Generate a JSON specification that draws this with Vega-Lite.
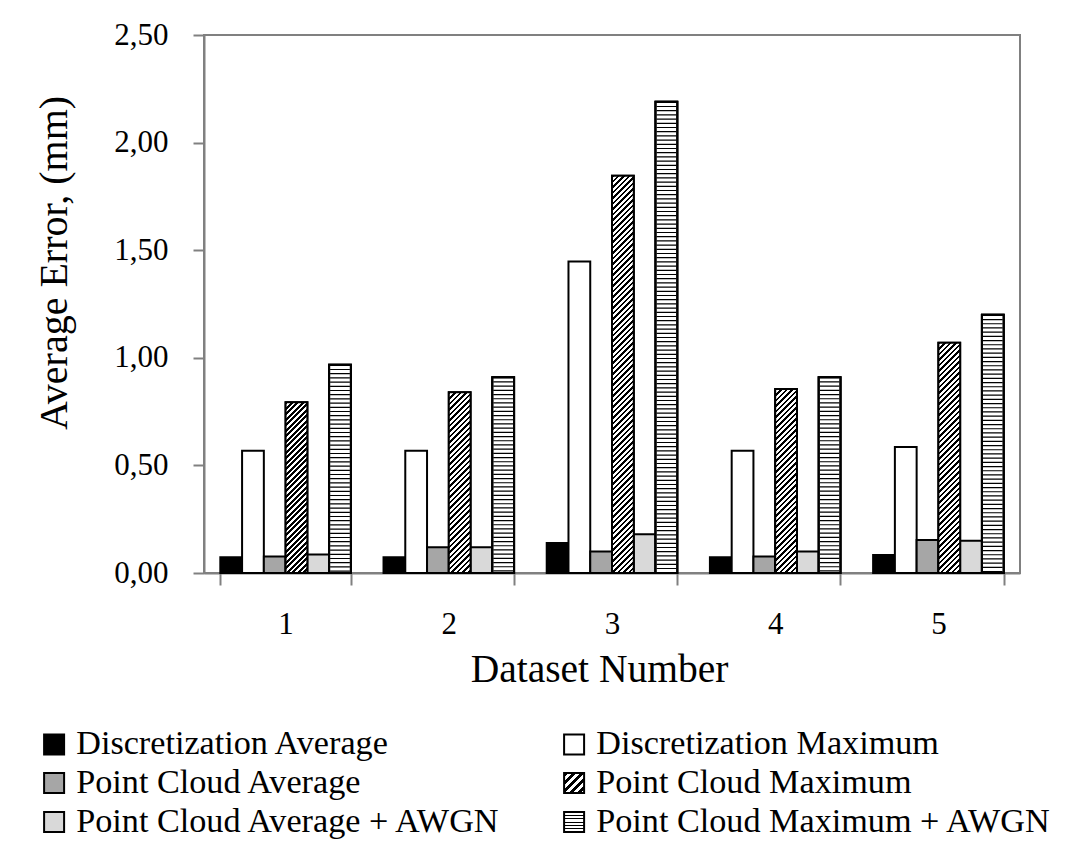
{
  "$schema": "https://vega.github.io/schema/vega-lite/v6.json",
  "width": 816,
  "height": 538,
  "autosize": {"type": "none"},
  "padding": {"left": 204, "top": 35, "right": 65, "bottom": 282},
  "background": "white",
  "config": {
    "font": "Liberation Serif",
    "view": {"stroke": "#808080", "strokeWidth": 2},
    "legend": {"symbolStrokeColor": "#000", "symbolStrokeWidth": 2}
  },
  "params": [
    {"name": "hatch", "value": [
{"offset":0,"color":"#000"},{"offset":0.005,"color":"#000"},{"offset":0.005,"color":"#fff"},{"offset":0.01,"color":"#fff"},
{"offset":0.01,"color":"#000"},{"offset":0.015,"color":"#000"},{"offset":0.015,"color":"#fff"},{"offset":0.02,"color":"#fff"},
{"offset":0.02,"color":"#000"},{"offset":0.025,"color":"#000"},{"offset":0.025,"color":"#fff"},{"offset":0.03,"color":"#fff"},
{"offset":0.03,"color":"#000"},{"offset":0.035,"color":"#000"},{"offset":0.035,"color":"#fff"},{"offset":0.04,"color":"#fff"},
{"offset":0.04,"color":"#000"},{"offset":0.045,"color":"#000"},{"offset":0.045,"color":"#fff"},{"offset":0.05,"color":"#fff"},
{"offset":0.05,"color":"#000"},{"offset":0.055,"color":"#000"},{"offset":0.055,"color":"#fff"},{"offset":0.06,"color":"#fff"},
{"offset":0.06,"color":"#000"},{"offset":0.065,"color":"#000"},{"offset":0.065,"color":"#fff"},{"offset":0.07,"color":"#fff"},
{"offset":0.07,"color":"#000"},{"offset":0.075,"color":"#000"},{"offset":0.075,"color":"#fff"},{"offset":0.08,"color":"#fff"},
{"offset":0.08,"color":"#000"},{"offset":0.085,"color":"#000"},{"offset":0.085,"color":"#fff"},{"offset":0.09,"color":"#fff"},
{"offset":0.09,"color":"#000"},{"offset":0.095,"color":"#000"},{"offset":0.095,"color":"#fff"},{"offset":0.10,"color":"#fff"},
{"offset":0.10,"color":"#000"},{"offset":0.105,"color":"#000"},{"offset":0.105,"color":"#fff"},{"offset":0.11,"color":"#fff"},
{"offset":0.11,"color":"#000"},{"offset":0.115,"color":"#000"},{"offset":0.115,"color":"#fff"},{"offset":0.12,"color":"#fff"},
{"offset":0.12,"color":"#000"},{"offset":0.125,"color":"#000"},{"offset":0.125,"color":"#fff"},{"offset":0.13,"color":"#fff"},
{"offset":0.13,"color":"#000"},{"offset":0.135,"color":"#000"},{"offset":0.135,"color":"#fff"},{"offset":0.14,"color":"#fff"},
{"offset":0.14,"color":"#000"},{"offset":0.145,"color":"#000"},{"offset":0.145,"color":"#fff"},{"offset":0.15,"color":"#fff"},
{"offset":0.15,"color":"#000"},{"offset":0.155,"color":"#000"},{"offset":0.155,"color":"#fff"},{"offset":0.16,"color":"#fff"},
{"offset":0.16,"color":"#000"},{"offset":0.165,"color":"#000"},{"offset":0.165,"color":"#fff"},{"offset":0.17,"color":"#fff"},
{"offset":0.17,"color":"#000"},{"offset":0.175,"color":"#000"},{"offset":0.175,"color":"#fff"},{"offset":0.18,"color":"#fff"},
{"offset":0.18,"color":"#000"},{"offset":0.185,"color":"#000"},{"offset":0.185,"color":"#fff"},{"offset":0.19,"color":"#fff"},
{"offset":0.19,"color":"#000"},{"offset":0.195,"color":"#000"},{"offset":0.195,"color":"#fff"},{"offset":0.20,"color":"#fff"},
{"offset":0.20,"color":"#000"},{"offset":0.205,"color":"#000"},{"offset":0.205,"color":"#fff"},{"offset":0.21,"color":"#fff"},
{"offset":0.21,"color":"#000"},{"offset":0.215,"color":"#000"},{"offset":0.215,"color":"#fff"},{"offset":0.22,"color":"#fff"},
{"offset":0.22,"color":"#000"},{"offset":0.225,"color":"#000"},{"offset":0.225,"color":"#fff"},{"offset":0.23,"color":"#fff"},
{"offset":0.23,"color":"#000"},{"offset":0.235,"color":"#000"},{"offset":0.235,"color":"#fff"},{"offset":0.24,"color":"#fff"},
{"offset":0.24,"color":"#000"},{"offset":0.245,"color":"#000"},{"offset":0.245,"color":"#fff"},{"offset":0.25,"color":"#fff"},
{"offset":0.25,"color":"#000"},{"offset":0.255,"color":"#000"},{"offset":0.255,"color":"#fff"},{"offset":0.26,"color":"#fff"},
{"offset":0.26,"color":"#000"},{"offset":0.265,"color":"#000"},{"offset":0.265,"color":"#fff"},{"offset":0.27,"color":"#fff"},
{"offset":0.27,"color":"#000"},{"offset":0.275,"color":"#000"},{"offset":0.275,"color":"#fff"},{"offset":0.28,"color":"#fff"},
{"offset":0.28,"color":"#000"},{"offset":0.285,"color":"#000"},{"offset":0.285,"color":"#fff"},{"offset":0.29,"color":"#fff"},
{"offset":0.29,"color":"#000"},{"offset":0.295,"color":"#000"},{"offset":0.295,"color":"#fff"},{"offset":0.30,"color":"#fff"},
{"offset":0.30,"color":"#000"},{"offset":0.305,"color":"#000"},{"offset":0.305,"color":"#fff"},{"offset":0.31,"color":"#fff"},
{"offset":0.31,"color":"#000"},{"offset":0.315,"color":"#000"},{"offset":0.315,"color":"#fff"},{"offset":0.32,"color":"#fff"},
{"offset":0.32,"color":"#000"},{"offset":0.325,"color":"#000"},{"offset":0.325,"color":"#fff"},{"offset":0.33,"color":"#fff"},
{"offset":0.33,"color":"#000"},{"offset":0.335,"color":"#000"},{"offset":0.335,"color":"#fff"},{"offset":0.34,"color":"#fff"},
{"offset":0.34,"color":"#000"},{"offset":0.345,"color":"#000"},{"offset":0.345,"color":"#fff"},{"offset":0.35,"color":"#fff"},
{"offset":0.35,"color":"#000"},{"offset":0.355,"color":"#000"},{"offset":0.355,"color":"#fff"},{"offset":0.36,"color":"#fff"},
{"offset":0.36,"color":"#000"},{"offset":0.365,"color":"#000"},{"offset":0.365,"color":"#fff"},{"offset":0.37,"color":"#fff"},
{"offset":0.37,"color":"#000"},{"offset":0.375,"color":"#000"},{"offset":0.375,"color":"#fff"},{"offset":0.38,"color":"#fff"},
{"offset":0.38,"color":"#000"},{"offset":0.385,"color":"#000"},{"offset":0.385,"color":"#fff"},{"offset":0.39,"color":"#fff"},
{"offset":0.39,"color":"#000"},{"offset":0.395,"color":"#000"},{"offset":0.395,"color":"#fff"},{"offset":0.40,"color":"#fff"},
{"offset":0.40,"color":"#000"},{"offset":0.405,"color":"#000"},{"offset":0.405,"color":"#fff"},{"offset":0.41,"color":"#fff"},
{"offset":0.41,"color":"#000"},{"offset":0.415,"color":"#000"},{"offset":0.415,"color":"#fff"},{"offset":0.42,"color":"#fff"},
{"offset":0.42,"color":"#000"},{"offset":0.425,"color":"#000"},{"offset":0.425,"color":"#fff"},{"offset":0.43,"color":"#fff"},
{"offset":0.43,"color":"#000"},{"offset":0.435,"color":"#000"},{"offset":0.435,"color":"#fff"},{"offset":0.44,"color":"#fff"},
{"offset":0.44,"color":"#000"},{"offset":0.445,"color":"#000"},{"offset":0.445,"color":"#fff"},{"offset":0.45,"color":"#fff"},
{"offset":0.45,"color":"#000"},{"offset":0.455,"color":"#000"},{"offset":0.455,"color":"#fff"},{"offset":0.46,"color":"#fff"},
{"offset":0.46,"color":"#000"},{"offset":0.465,"color":"#000"},{"offset":0.465,"color":"#fff"},{"offset":0.47,"color":"#fff"},
{"offset":0.47,"color":"#000"},{"offset":0.475,"color":"#000"},{"offset":0.475,"color":"#fff"},{"offset":0.48,"color":"#fff"},
{"offset":0.48,"color":"#000"},{"offset":0.485,"color":"#000"},{"offset":0.485,"color":"#fff"},{"offset":0.49,"color":"#fff"},
{"offset":0.49,"color":"#000"},{"offset":0.495,"color":"#000"},{"offset":0.495,"color":"#fff"},{"offset":0.50,"color":"#fff"},
{"offset":0.50,"color":"#000"},{"offset":0.505,"color":"#000"},{"offset":0.505,"color":"#fff"},{"offset":0.51,"color":"#fff"},
{"offset":0.51,"color":"#000"},{"offset":0.515,"color":"#000"},{"offset":0.515,"color":"#fff"},{"offset":0.52,"color":"#fff"},
{"offset":0.52,"color":"#000"},{"offset":0.525,"color":"#000"},{"offset":0.525,"color":"#fff"},{"offset":0.53,"color":"#fff"},
{"offset":0.53,"color":"#000"},{"offset":0.535,"color":"#000"},{"offset":0.535,"color":"#fff"},{"offset":0.54,"color":"#fff"},
{"offset":0.54,"color":"#000"},{"offset":0.545,"color":"#000"},{"offset":0.545,"color":"#fff"},{"offset":0.55,"color":"#fff"},
{"offset":0.55,"color":"#000"},{"offset":0.555,"color":"#000"},{"offset":0.555,"color":"#fff"},{"offset":0.56,"color":"#fff"},
{"offset":0.56,"color":"#000"},{"offset":0.565,"color":"#000"},{"offset":0.565,"color":"#fff"},{"offset":0.57,"color":"#fff"},
{"offset":0.57,"color":"#000"},{"offset":0.575,"color":"#000"},{"offset":0.575,"color":"#fff"},{"offset":0.58,"color":"#fff"},
{"offset":0.58,"color":"#000"},{"offset":0.585,"color":"#000"},{"offset":0.585,"color":"#fff"},{"offset":0.59,"color":"#fff"},
{"offset":0.59,"color":"#000"},{"offset":0.595,"color":"#000"},{"offset":0.595,"color":"#fff"},{"offset":0.60,"color":"#fff"},
{"offset":0.60,"color":"#000"},{"offset":0.605,"color":"#000"},{"offset":0.605,"color":"#fff"},{"offset":0.61,"color":"#fff"},
{"offset":0.61,"color":"#000"},{"offset":0.615,"color":"#000"},{"offset":0.615,"color":"#fff"},{"offset":0.62,"color":"#fff"},
{"offset":0.62,"color":"#000"},{"offset":0.625,"color":"#000"},{"offset":0.625,"color":"#fff"},{"offset":0.63,"color":"#fff"},
{"offset":0.63,"color":"#000"},{"offset":0.635,"color":"#000"},{"offset":0.635,"color":"#fff"},{"offset":0.64,"color":"#fff"},
{"offset":0.64,"color":"#000"},{"offset":0.645,"color":"#000"},{"offset":0.645,"color":"#fff"},{"offset":0.65,"color":"#fff"},
{"offset":0.65,"color":"#000"},{"offset":0.655,"color":"#000"},{"offset":0.655,"color":"#fff"},{"offset":0.66,"color":"#fff"},
{"offset":0.66,"color":"#000"},{"offset":0.665,"color":"#000"},{"offset":0.665,"color":"#fff"},{"offset":0.67,"color":"#fff"},
{"offset":0.67,"color":"#000"},{"offset":0.675,"color":"#000"},{"offset":0.675,"color":"#fff"},{"offset":0.68,"color":"#fff"},
{"offset":0.68,"color":"#000"},{"offset":0.685,"color":"#000"},{"offset":0.685,"color":"#fff"},{"offset":0.69,"color":"#fff"},
{"offset":0.69,"color":"#000"},{"offset":0.695,"color":"#000"},{"offset":0.695,"color":"#fff"},{"offset":0.70,"color":"#fff"},
{"offset":0.70,"color":"#000"},{"offset":0.705,"color":"#000"},{"offset":0.705,"color":"#fff"},{"offset":0.71,"color":"#fff"},
{"offset":0.71,"color":"#000"},{"offset":0.715,"color":"#000"},{"offset":0.715,"color":"#fff"},{"offset":0.72,"color":"#fff"},
{"offset":0.72,"color":"#000"},{"offset":0.725,"color":"#000"},{"offset":0.725,"color":"#fff"},{"offset":0.73,"color":"#fff"},
{"offset":0.73,"color":"#000"},{"offset":0.735,"color":"#000"},{"offset":0.735,"color":"#fff"},{"offset":0.74,"color":"#fff"},
{"offset":0.74,"color":"#000"},{"offset":0.745,"color":"#000"},{"offset":0.745,"color":"#fff"},{"offset":0.75,"color":"#fff"},
{"offset":0.75,"color":"#000"},{"offset":0.755,"color":"#000"},{"offset":0.755,"color":"#fff"},{"offset":0.76,"color":"#fff"},
{"offset":0.76,"color":"#000"},{"offset":0.765,"color":"#000"},{"offset":0.765,"color":"#fff"},{"offset":0.77,"color":"#fff"}
    ]},
    {"name": "hatchL", "value": [
{"offset":0,"color":"#000"},{"offset":0.1,"color":"#000"},{"offset":0.1,"color":"#fff"},{"offset":0.2,"color":"#fff"},
{"offset":0.2,"color":"#000"},{"offset":0.3,"color":"#000"},{"offset":0.3,"color":"#fff"},{"offset":0.4,"color":"#fff"},
{"offset":0.4,"color":"#000"},{"offset":0.5,"color":"#000"},{"offset":0.5,"color":"#fff"},{"offset":0.6,"color":"#fff"},
{"offset":0.6,"color":"#000"},{"offset":0.7,"color":"#000"},{"offset":0.7,"color":"#fff"},{"offset":0.8,"color":"#fff"},
{"offset":0.8,"color":"#000"},{"offset":0.9,"color":"#000"},{"offset":0.9,"color":"#fff"},{"offset":1,"color":"#fff"}
    ]},
    {"name": "hstripeL", "value": [
{"offset":0,"color":"#fff"},{"offset":0.14,"color":"#fff"},{"offset":0.14,"color":"#000"},{"offset":0.19,"color":"#000"},
{"offset":0.19,"color":"#fff"},{"offset":0.31,"color":"#fff"},{"offset":0.31,"color":"#000"},{"offset":0.36,"color":"#000"},
{"offset":0.36,"color":"#fff"},{"offset":0.48,"color":"#fff"},{"offset":0.48,"color":"#000"},{"offset":0.53,"color":"#000"},
{"offset":0.53,"color":"#fff"},{"offset":0.65,"color":"#fff"},{"offset":0.65,"color":"#000"},{"offset":0.70,"color":"#000"},
{"offset":0.70,"color":"#fff"},{"offset":0.82,"color":"#fff"},{"offset":0.82,"color":"#000"},{"offset":0.87,"color":"#000"},
{"offset":0.87,"color":"#fff"},{"offset":1,"color":"#fff"}
    ]}
  ],
  "data": {
    "values": [
      {"Dataset": 1, "Series": "Discretization Average", "value": 0.073},
      {"Dataset": 1, "Series": "Discretization Maximum", "value": 0.568},
      {"Dataset": 1, "Series": "Point Cloud Average", "value": 0.077},
      {"Dataset": 1, "Series": "Point Cloud Maximum", "value": 0.793},
      {"Dataset": 1, "Series": "Point Cloud Average + AWGN", "value": 0.086},
      {"Dataset": 1, "Series": "Point Cloud Maximum + AWGN", "value": 0.968},
      {"Dataset": 2, "Series": "Discretization Average", "value": 0.073},
      {"Dataset": 2, "Series": "Discretization Maximum", "value": 0.568},
      {"Dataset": 2, "Series": "Point Cloud Average", "value": 0.12},
      {"Dataset": 2, "Series": "Point Cloud Maximum", "value": 0.84},
      {"Dataset": 2, "Series": "Point Cloud Average + AWGN", "value": 0.12},
      {"Dataset": 2, "Series": "Point Cloud Maximum + AWGN", "value": 0.91},
      {"Dataset": 3, "Series": "Discretization Average", "value": 0.139},
      {"Dataset": 3, "Series": "Discretization Maximum", "value": 1.447},
      {"Dataset": 3, "Series": "Point Cloud Average", "value": 0.10},
      {"Dataset": 3, "Series": "Point Cloud Maximum", "value": 1.846},
      {"Dataset": 3, "Series": "Point Cloud Average + AWGN", "value": 0.18},
      {"Dataset": 3, "Series": "Point Cloud Maximum + AWGN", "value": 2.19},
      {"Dataset": 4, "Series": "Discretization Average", "value": 0.073},
      {"Dataset": 4, "Series": "Discretization Maximum", "value": 0.568},
      {"Dataset": 4, "Series": "Point Cloud Average", "value": 0.077},
      {"Dataset": 4, "Series": "Point Cloud Maximum", "value": 0.855},
      {"Dataset": 4, "Series": "Point Cloud Average + AWGN", "value": 0.10},
      {"Dataset": 4, "Series": "Point Cloud Maximum + AWGN", "value": 0.91},
      {"Dataset": 5, "Series": "Discretization Average", "value": 0.084},
      {"Dataset": 5, "Series": "Discretization Maximum", "value": 0.585},
      {"Dataset": 5, "Series": "Point Cloud Average", "value": 0.153},
      {"Dataset": 5, "Series": "Point Cloud Maximum", "value": 1.07},
      {"Dataset": 5, "Series": "Point Cloud Average + AWGN", "value": 0.15},
      {"Dataset": 5, "Series": "Point Cloud Maximum + AWGN", "value": 1.20}
    ]
  },
  "encoding": {
    "x": {
      "field": "Dataset", "type": "ordinal",
      "scale": {"paddingInner": 0.2, "paddingOuter": 0.1},
      "axis": {
        "title": "Dataset Number", "labelAngle": 0, "tickBand": "extent",
        "tickSize": 12, "tickWidth": 2, "tickColor": "#808080",
        "domainColor": "#808080", "domainWidth": 2, "grid": false,
        "labelFontSize": 31, "labelColor": "#000", "labelBaseline": "alphabetic", "labelPadding": 48,
        "titleFontSize": 39.5, "titleFontWeight": "normal", "titleColor": "#000",
        "titleBaseline": "alphabetic", "titleX": 395, "titleY": 108
      }
    },
    "xOffset": {
      "field": "Series", "type": "nominal",
      "scale": {"domain": ["Discretization Average", "Discretization Maximum", "Point Cloud Average", "Point Cloud Maximum", "Point Cloud Average + AWGN", "Point Cloud Maximum + AWGN"]}
    },
    "y": {
      "field": "value", "type": "quantitative",
      "scale": {"domain": [0, 2.5], "nice": false},
      "axis": {
        "title": "Average Error, (mm)", "values": [0, 0.5, 1, 1.5, 2, 2.5],
        "labelExpr": "replace(format(datum.value, '.2f'), '.', ',')",
        "tickSize": 11, "tickWidth": 2, "tickColor": "#808080",
        "domainColor": "#808080", "domainWidth": 2, "grid": false,
        "labelFontSize": 31, "labelColor": "#000", "labelPadding": 25,
        "titleFontSize": 40, "titleFontWeight": "normal", "titleColor": "#000",
        "titleBaseline": "alphabetic", "titleAngle": -90, "titleAlign": "center",
        "titleX": -138, "titleY": 227.5
      }
    }
  },
  "layer": [
    {
      "mark": {"type": "bar", "stroke": "#000", "strokeWidth": 2},
      "encoding": {
        "fill": {
          "field": "Series", "type": "nominal",
          "scale": {
            "domain": ["Discretization Average", "Discretization Maximum", "Point Cloud Average", "Point Cloud Maximum", "Point Cloud Average + AWGN", "Point Cloud Maximum + AWGN"],
            "range": ["#000000", "#ffffff", "#a6a6a6",
              {"expr": "{gradient: 'linear', x1: 0, y1: 0, x2: 1, y2: 1, stops: hatchL}"},
              "#d9d9d9",
              {"expr": "{gradient: 'linear', x1: 0, y1: 0, x2: 0, y2: 1, stops: hstripeL}"}]
          },
          "legend": {
            "title": null, "orient": "none", "legendX": -167, "legendY": 692,
            "direction": "horizontal", "columns": 2, "columnPadding": 54, "rowPadding": 4,
            "symbolType": "square", "symbolSize": 400, "symbolStrokeColor": "#000", "symbolStrokeWidth": 2,
            "labelFontSize": 34.2, "labelColor": "#000", "labelOffset": 5, "labelLimit": 1000, "padding": 0
          }
        }
      }
    },
    {
      "transform": [{"filter": "datum.Series == 'Point Cloud Maximum' && datum.Dataset == 1"}],
      "mark": {"type": "bar", "stroke": "#000", "strokeWidth": 2, "fill": {"expr": "{gradient: 'linear', x1: 0, y1: 0, x2: 0.4044, y2: 3.1714, stops: hatch}"}}
    },
    {
      "transform": [{"filter": "datum.Series == 'Point Cloud Maximum' && datum.Dataset == 2"}],
      "mark": {"type": "bar", "stroke": "#000", "strokeWidth": 2, "fill": {"expr": "{gradient: 'linear', x1: 0, y1: 0, x2: 0.3610, y2: 2.9990, stops: hatch}"}}
    },
    {
      "transform": [{"filter": "datum.Series == 'Point Cloud Maximum' && datum.Dataset == 3"}],
      "mark": {"type": "bar", "stroke": "#000", "strokeWidth": 2, "fill": {"expr": "{gradient: 'linear', x1: 0, y1: 0, x2: 0.07561, y2: 1.3803, stops: hatch}"}}
    },
    {
      "transform": [{"filter": "datum.Series == 'Point Cloud Maximum' && datum.Dataset == 4"}],
      "mark": {"type": "bar", "stroke": "#000", "strokeWidth": 2, "fill": {"expr": "{gradient: 'linear', x1: 0, y1: 0, x2: 0.3486, y2: 2.9479, stops: hatch}"}}
    },
    {
      "transform": [{"filter": "datum.Series == 'Point Cloud Maximum' && datum.Dataset == 5"}],
      "mark": {"type": "bar", "stroke": "#000", "strokeWidth": 2, "fill": {"expr": "{gradient: 'linear', x1: 0, y1: 0, x2: 0.2237, y2: 2.3673, stops: hatch}"}}
    },
    {
      "transform": [{"filter": "datum.Series == 'Point Cloud Maximum + AWGN'"}],
      "mark": {"type": "bar", "fill": "#ffffff", "stroke": "#000", "strokeWidth": 2}
    },
    {
      "transform": [{"filter": "datum.Series == 'Point Cloud Maximum + AWGN'"}],
      "mark": {"type": "rule", "strokeWidth": 19.8, "strokeDash": [1.2, 3], "strokeCap": "butt", "color": "#000"},
      "encoding": {"y2": {"datum": 0}}
    },
    {
      "transform": [{"filter": "datum.Series == 'Point Cloud Maximum + AWGN'"}],
      "mark": {"type": "bar", "fill": "transparent", "stroke": "#000", "strokeWidth": 2}
    }
  ]
}
